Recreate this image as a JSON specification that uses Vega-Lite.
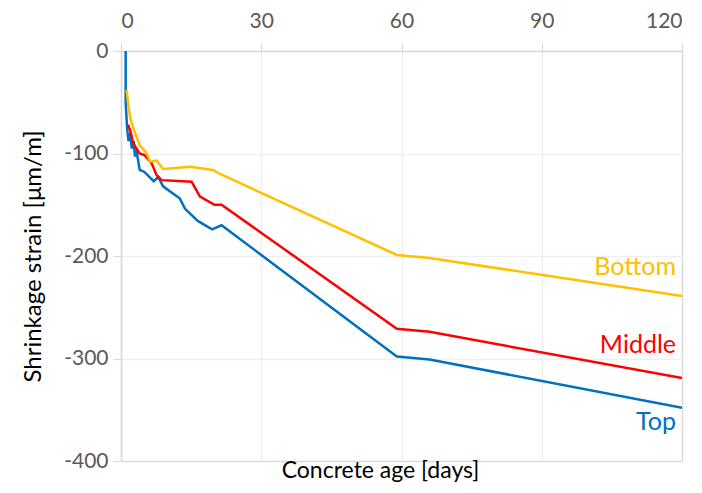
{
  "$schema": "https://vega.github.io/schema/vega-lite/v6.json",
  "width": 561,
  "height": 410,
  "autosize": {"type": "none"},
  "padding": {"left": 121, "top": 51, "right": 20, "bottom": 32},
  "background": "white",
  "config": {"view": {"stroke": null}, "font": "Lato"},
  "title": {"text": "Concrete age [days]", "orient": "bottom", "anchor": "middle", "dx": -21, "offset": -11, "fontSize": 23, "font": "Lato", "fontWeight": "normal", "color": "#000000"},
  "datasets": {
    "series": [
      {"day": 1.0, "strain": 0, "pos": "Top"},
      {"day": 1.0, "strain": -50, "pos": "Top"},
      {"day": 1.3, "strain": -75, "pos": "Top"},
      {"day": 1.6, "strain": -88, "pos": "Top"},
      {"day": 2.0, "strain": -80, "pos": "Top"},
      {"day": 2.3, "strain": -95, "pos": "Top"},
      {"day": 2.7, "strain": -88, "pos": "Top"},
      {"day": 3.0, "strain": -103, "pos": "Top"},
      {"day": 3.3, "strain": -97, "pos": "Top"},
      {"day": 4.0, "strain": -116, "pos": "Top"},
      {"day": 5.0, "strain": -118, "pos": "Top"},
      {"day": 7.0, "strain": -127, "pos": "Top"},
      {"day": 8.0, "strain": -123, "pos": "Top"},
      {"day": 9.0, "strain": -132, "pos": "Top"},
      {"day": 12.6, "strain": -144, "pos": "Top"},
      {"day": 13.7, "strain": -154, "pos": "Top"},
      {"day": 16.5, "strain": -166, "pos": "Top"},
      {"day": 19.5, "strain": -174, "pos": "Top"},
      {"day": 21.5, "strain": -170, "pos": "Top"},
      {"day": 59, "strain": -298, "pos": "Top"},
      {"day": 66, "strain": -301, "pos": "Top"},
      {"day": 120, "strain": -348, "pos": "Top"},
      {"day": 1.5, "strain": -72, "pos": "Middle"},
      {"day": 2.0, "strain": -78, "pos": "Middle"},
      {"day": 2.5, "strain": -88, "pos": "Middle"},
      {"day": 3.0, "strain": -93, "pos": "Middle"},
      {"day": 3.7, "strain": -98, "pos": "Middle"},
      {"day": 4.0, "strain": -100, "pos": "Middle"},
      {"day": 5.0, "strain": -101.5, "pos": "Middle"},
      {"day": 6.6, "strain": -110, "pos": "Middle"},
      {"day": 7.6, "strain": -121, "pos": "Middle"},
      {"day": 8.7, "strain": -126, "pos": "Middle"},
      {"day": 15.1, "strain": -127.5, "pos": "Middle"},
      {"day": 16.9, "strain": -142, "pos": "Middle"},
      {"day": 20.0, "strain": -150, "pos": "Middle"},
      {"day": 21.5, "strain": -150, "pos": "Middle"},
      {"day": 59, "strain": -271, "pos": "Middle"},
      {"day": 66, "strain": -274, "pos": "Middle"},
      {"day": 120, "strain": -319, "pos": "Middle"},
      {"day": 1.2, "strain": -38, "pos": "Bottom"},
      {"day": 1.5, "strain": -50, "pos": "Bottom"},
      {"day": 2.0, "strain": -66, "pos": "Bottom"},
      {"day": 3.0, "strain": -80, "pos": "Bottom"},
      {"day": 4.0, "strain": -92, "pos": "Bottom"},
      {"day": 5.0, "strain": -97, "pos": "Bottom"},
      {"day": 5.5, "strain": -100, "pos": "Bottom"},
      {"day": 6.2, "strain": -108, "pos": "Bottom"},
      {"day": 7.6, "strain": -107, "pos": "Bottom"},
      {"day": 9.0, "strain": -115, "pos": "Bottom"},
      {"day": 14.8, "strain": -113, "pos": "Bottom"},
      {"day": 19.7, "strain": -116, "pos": "Bottom"},
      {"day": 21.2, "strain": -120, "pos": "Bottom"},
      {"day": 59, "strain": -199, "pos": "Bottom"},
      {"day": 66, "strain": -202, "pos": "Bottom"},
      {"day": 120, "strain": -239, "pos": "Bottom"}
    ],
    "labels": [
      {"day": 120, "strain": -211, "pos": "Bottom"},
      {"day": 120, "strain": -287, "pos": "Middle"},
      {"day": 120, "strain": -362, "pos": "Top"}
    ]
  },
  "layer": [
    {
      "data": {"name": "series"},
      "mark": {"type": "line", "strokeWidth": 2.5, "clip": true},
      "encoding": {
        "x": {"field": "day", "type": "quantitative",
          "scale": {"domain": [0, 120], "nice": false},
          "axis": {"orient": "top", "values": [0, 30, 60, 90, 120], "title": null,
            "labelFontSize": 21, "labelColor": "#595959", "labelPadding": 12, "labelFont": "Lato",
            "tickSize": 8, "tickColor": "#d9d9d9", "domainColor": "#d9d9d9", "domainWidth": 1.5,
            "gridColor": {"condition": {"test": "datum.value === 120", "value": "#d9d9d9"}, "value": "#efefef"},
            "gridWidth": 1.5}},
        "y": {"field": "strain", "type": "quantitative",
          "scale": {"domain": [-400, 0], "nice": false},
          "axis": {"values": [0, -100, -200, -300, -400], "title": "Shrinkage strain [μm/m]",
            "labelExpr": "toString(datum.value)",
            "titleFontSize": 24, "titleFont": "Lato", "titleFontWeight": "normal", "titleColor": "#000000", "titlePadding": 18,
            "labelFontSize": 21, "labelColor": "#595959", "labelPadding": 5, "labelFont": "Lato",
            "tickSize": 8, "tickColor": "#d9d9d9", "domainColor": "#d9d9d9", "domainWidth": 1.5,
            "gridColor": {"condition": {"test": "datum.value === -400", "value": "#d9d9d9"}, "value": "#efefef"},
            "gridWidth": 1.5}},
        "color": {"field": "pos", "type": "nominal",
          "scale": {"domain": ["Bottom", "Middle", "Top"], "range": ["#FFC000", "#FF0000", "#0070C0"]},
          "legend": null},
        "order": {"field": "day", "type": "quantitative"}
      }
    },
    {
      "data": {"name": "labels"},
      "mark": {"type": "text", "align": "right", "baseline": "middle", "dx": -6, "fontSize": 25, "font": "Lato"},
      "encoding": {
        "x": {"field": "day", "type": "quantitative"},
        "y": {"field": "strain", "type": "quantitative"},
        "text": {"field": "pos"},
        "color": {"field": "pos", "type": "nominal", "legend": null}
      }
    }
  ]
}
